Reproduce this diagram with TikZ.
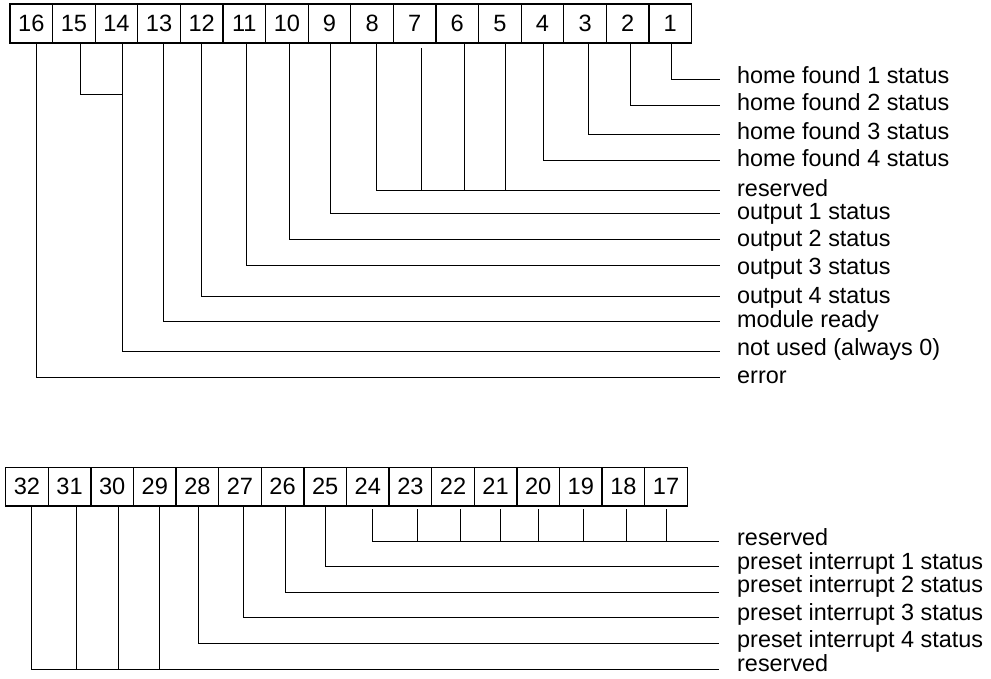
\documentclass[tikz,border=0pt]{standalone}
\usepackage{fontspec}
\setmainfont{Liberation Sans}
\usetikzlibrary{positioning}

\begin{document}
\begin{tikzpicture}[x=1pt, y=-1pt,
    bitbox/.style={draw, line width=1.3pt, minimum width=42.6pt, minimum height=39pt, inner sep=0pt, font=\fontsize{23.6}{28}\selectfont},
    lbl/.style={anchor=base west, inner sep=0pt, font=\fontsize{23.4}{28}\selectfont},
    wire/.style={line width=1pt}]
            \useasboundingbox (0,0) rectangle (991,679);
            % first register
            \node[bitbox] (b16) at (31.3,23.5) {16};
            \node[bitbox] (b15) at (73.9,23.5) {15};
            \node[bitbox] (b14) at (116.5,23.5) {14};
            \node[bitbox] (b13) at (159.1,23.5) {13};
            \node[bitbox] (b12) at (201.7,23.5) {12};
            \node[bitbox] (b11) at (244.3,23.5) {11};
            \node[bitbox] (b10) at (286.9,23.5) {10};
            \node[bitbox] (b9) at (329.5,23.5) {9};
            \node[bitbox] (b8) at (372.1,23.5) {8};
            \node[bitbox] (b7) at (414.7,23.5) {7};
            \node[bitbox] (b6) at (457.3,23.5) {6};
            \node[bitbox] (b5) at (499.9,23.5) {5};
            \node[bitbox] (b4) at (542.5,23.5) {4};
            \node[bitbox] (b3) at (585.1,23.5) {3};
            \node[bitbox] (b2) at (627.7,23.5) {2};
            \node[bitbox] (b1) at (670.3,23.5) {1};
            \coordinate (e1) at (720,80);
            \coordinate (e2) at (720,106);
            \coordinate (e3) at (720,135);
            \coordinate (e4) at (720,161);
            \coordinate (e5) at (720,191);
            \coordinate (e9) at (720,214);
            \coordinate (e10) at (720,240);
            \coordinate (e11) at (720,266);
            \coordinate (e12) at (720,296);
            \coordinate (e13) at (720,321);
            \coordinate (e14) at (720,351);
            \coordinate (e16) at (720,377);
            \coordinate (j15) at (122.7,94.3);
            \node[lbl] (l1) at (737,84) {home found 1 status};
            \node[lbl] (l2) at (737,110.5) {home found 2 status};
            \node[lbl] (l3) at (737,140) {home found 3 status};
            \node[lbl] (l4) at (737,167) {home found 4 status};
            \node[lbl] (l5) at (737,196.5) {reserved};
            \node[lbl] (l9) at (737,220) {output 1 status};
            \node[lbl] (l10) at (737,247) {output 2 status};
            \node[lbl] (l11) at (737,275) {output 3 status};
            \node[lbl] (l12) at (737,303) {output 4 status};
            \node[lbl] (l13) at (737,327) {module ready};
            \node[lbl] (l14) at (737,355) {not used (always 0)};
            \node[lbl] (l16) at (737,383) {error};
            \draw[wire] ([xshift=1.4pt]b1.south) |- (e1);
            \draw[wire] ([xshift=3pt]b2.south) |- (e2);
            \draw[wire] ([xshift=3.2pt]b3.south) |- (e3);
            \draw[wire] ([xshift=0.8pt]b4.south) |- (e4);
            \draw[wire] ([xshift=4.6pt]b8.south) |- (e5);
            \draw[wire] ([xshift=7pt,yshift=-4.5pt]b7.south) -- ([xshift=7pt]b7.south |- e5);
            \draw[wire] ([xshift=6.7pt]b6.south) -- ([xshift=6.7pt]b6.south |- e5);
            \draw[wire] ([xshift=5.1pt]b5.south) -- ([xshift=5.1pt]b5.south |- e5);
            \draw[wire] ([xshift=0.5pt]b9.south) |- (e9);
            \draw[wire] ([xshift=2.4pt]b10.south) |- (e10);
            \draw[wire] ([xshift=2.4pt]b11.south) |- (e11);
            \draw[wire] (b12.south) |- (e12);
            \draw[wire] ([xshift=4.2pt]b13.south) |- (e13);
            \draw[wire] ([xshift=6.8pt]b15.south) |- (j15);
            \draw[wire] ([xshift=6.2pt]b14.south) |- (e14);
            \draw[wire] ([xshift=4.7pt]b16.south) |- (e16);
            % second register
            \node[bitbox, minimum height=38.7pt] (b32) at (27,486.7) {32};
            \node[bitbox, minimum height=38.7pt] (b31) at (69.6,486.7) {31};
            \node[bitbox, minimum height=38.7pt] (b30) at (112.2,486.7) {30};
            \node[bitbox, minimum height=38.7pt] (b29) at (154.8,486.7) {29};
            \node[bitbox, minimum height=38.7pt] (b28) at (197.4,486.7) {28};
            \node[bitbox, minimum height=38.7pt] (b27) at (240,486.7) {27};
            \node[bitbox, minimum height=38.7pt] (b26) at (282.6,486.7) {26};
            \node[bitbox, minimum height=38.7pt] (b25) at (325.2,486.7) {25};
            \node[bitbox, minimum height=38.7pt] (b24) at (367.8,486.7) {24};
            \node[bitbox, minimum height=38.7pt] (b23) at (410.4,486.7) {23};
            \node[bitbox, minimum height=38.7pt] (b22) at (453,486.7) {22};
            \node[bitbox, minimum height=38.7pt] (b21) at (495.6,486.7) {21};
            \node[bitbox, minimum height=38.7pt] (b20) at (538.2,486.7) {20};
            \node[bitbox, minimum height=38.7pt] (b19) at (580.8,486.7) {19};
            \node[bitbox, minimum height=38.7pt] (b18) at (623.4,486.7) {18};
            \node[bitbox, minimum height=38.7pt] (b17) at (666,486.7) {17};
            \coordinate (e17) at (719,541);
            \coordinate (e25) at (719,566);
            \coordinate (e26) at (719,592);
            \coordinate (e27) at (719,617);
            \coordinate (e28) at (719,643);
            \coordinate (e29) at (719,669);
            \node[lbl] (l17) at (737,545) {reserved};
            \node[lbl] (l25) at (737,569.5) {preset interrupt 1 status};
            \node[lbl] (l26) at (737,592) {preset interrupt 2 status};
            \node[lbl] (l27) at (737,620) {preset interrupt 3 status};
            \node[lbl] (l28) at (737,647) {preset interrupt 4 status};
            \node[lbl] (l29) at (737,671) {reserved};
            \draw[wire] ([xshift=4.9pt,yshift=-2.5pt]b24.south) |- (e17);
            \draw[wire] ([xshift=6.9pt,yshift=-2.5pt]b23.south) -- ([xshift=6.9pt]b23.south |- e17);
            \draw[wire] ([xshift=7pt,yshift=-2.5pt]b22.south) -- ([xshift=7pt]b22.south |- e17);
            \draw[wire] ([xshift=4.4pt,yshift=-2.5pt]b21.south) -- ([xshift=4.4pt]b21.south |- e17);
            \draw[wire] ([xshift=0.5pt,yshift=-2.5pt]b20.south) -- ([xshift=0.5pt]b20.south |- e17);
            \draw[wire] ([xshift=2.2pt,yshift=-2.5pt]b19.south) -- ([xshift=2.2pt]b19.south |- e17);
            \draw[wire] ([xshift=2.9pt,yshift=-2.5pt]b18.south) -- ([xshift=2.9pt]b18.south |- e17);
            \draw[wire] ([xshift=0.3pt,yshift=-2.5pt]b17.south) -- ([xshift=0.3pt]b17.south |- e17);
            \draw[wire] ([xshift=-0.2pt]b25.south) |- (e25);
            \draw[wire] ([xshift=2.4pt]b26.south) |- (e26);
            \draw[wire] ([xshift=3.3pt]b27.south) |- (e27);
            \draw[wire] ([xshift=0.9pt]b28.south) |- (e28);
            \draw[wire] ([xshift=4.7pt]b32.south) |- (e29);
            \draw[wire] ([xshift=6.7pt]b31.south) -- ([xshift=6.7pt]b31.south |- e29);
            \draw[wire] ([xshift=6.5pt]b30.south) -- ([xshift=6.5pt]b30.south |- e29);
            \draw[wire] ([xshift=4.5pt]b29.south) -- ([xshift=4.5pt]b29.south |- e29);
\end{tikzpicture}
\end{document}
